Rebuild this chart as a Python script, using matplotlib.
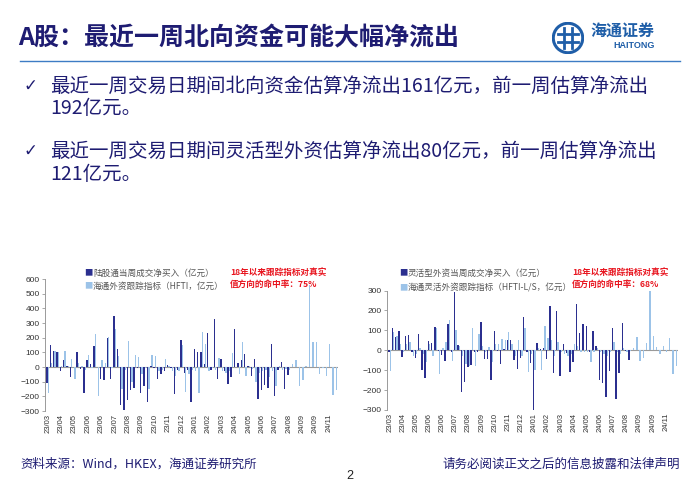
import matplotlib
matplotlib.use("Agg")
import matplotlib.pyplot as plt
import numpy as np
from matplotlib.patches import Circle

plt.rcParams['font.family'] = ['Noto Sans CJK SC', 'DejaVu Sans']

W, H = 700, 484

# ---- data (weekly, 亿元) ----
tick_labels = ['23/03', '23/04', '23/05', '23/06', '23/06', '23/07', '23/08', '23/09',
               '23/10', '23/11', '23/12', '24/01', '24/02', '24/03', '24/04', '24/05',
               '24/06', '24/07', '24/08', '24/09', '24/09', '24/11']

north_actual = [-110, 150, 110, 105, -30, 45, 5, -70, 0, 100, -15, -180, 50, 20, 145, 0,
                -85, -90, 200, -80, 345, 125, -260, -295, -225, -160, -145, -10, -175, -130,
                -240, 5, -10, -80, -45, -30, 15, -10, -185, -20, 185, -40, -20, -240, 120,
                100, 105, 20, 235, -20, 330, -80, 55, -30, -115, -70, 260, 25, 45, 90, 10,
                -60, 55, -220, -160, -120, -145, 160, -195, -20, 35, -150, -55]
north_hfti = [-180, 30, 110, 100, 10, 110, 10, 55, -85, 30, 10, -20, 80, -10, 225, -200,
              50, 30, 205, -10, 260, 75, -150, -20, 175, -100, 80, 65, -50, -10, -150, 80,
              75, -30, -20, 55, 10, -30, -60, -30, 150, -170, -50, -20, -30, -180, 240, 160,
              -30, -10, -20, 60, -30, -40, -30, 95, 0, -45, 170, -60, 10, -15, -100, -40,
              -30, -20, -70, -30, -130, 10, -20, -15, -20, 20, 50, -130, -90, 10, 560, 170,
              170, -45, -10, -60, 160, -190, -160]

flex_actual = [-10, 110, 65, 95, -35, 70, 75, -10, -40, 80, -100, -140, 45, 35, 115, -5,
               -25, -55, 130, -10, 290, 25, -210, -160, -85, -75, -10, -10, 140, -45, -45,
               -150, 95, -5, -70, 5, 50, 50, -50, -95, -40, 165, -10, -65, -300, 35, 5, 10,
               -45, 220, -115, 195, -130, 30, -15, -110, -60, 230, 85, 130, 120, -10, 95, 20,
               -150, -165, -235, -105, 110, -245, -115, 135, -5, -50]
flex_hfti = [-105, 90, 70, 30, -10, 30, 40, -30, -20, 10, -20, -60, 30, -30, 110, -120, 10,
             40, 150, -55, 100, 20, -30, -70, -80, 110, -80, 80, 20, -10, 15, -60, 30, 30,
             55, 50, 90, 30, -30, 50, -30, 110, -110, -20, -100, 10, -100, 120, 60, 50, -30,
             40, -10, -20, -30, -20, 30, 20, -10, -10, -10, -60, -10, 10, -10, -20, -30, -10,
             40, -10, -20, 10, -10, -5, 10, 65, -55, -40, 35, 300, 70, 15, -20, 20, -10, 60,
             -120, -80]

DARK = '#2B2F8F'
LIGHT = '#9CC3E8'
NAVY = '#1E1C72'
LOGO = '#1F5EA8'


def rect(left, top, right, bottom):
    return [left / W, 1 - bottom / H, (right - left) / W, (bottom - top) / H]


def ftext(x, y, s, **kw):
    fig.text(x / W, 1 - y / H, s, **kw)


def draw_chart(ax, actual, hfti, ylim, step):
    xa = np.arange(len(actual))
    xh = np.arange(len(hfti))
    ax.bar(xa - 0.2, actual, width=0.42, color=DARK, zorder=3)
    ax.bar(xh + 0.2, hfti, width=0.42, color=LIGHT, zorder=2)
    ax.axhline(0, color='#9a9a9a', lw=0.8, zorder=1)
    ax.set_ylim(*ylim)
    ax.set_xlim(-0.8, len(hfti) - 0.3)
    ax.set_yticks(np.arange(ylim[0], ylim[1] + 1, step))
    ax.set_xticks(np.arange(0, 4 * len(tick_labels), 4))
    ax.set_xticklabels(tick_labels, rotation=90, fontsize=5.5,
                       family=['Liberation Sans'], color='#333333')
    for lab in ax.get_yticklabels():
        lab.set_family(['Liberation Sans'])
    ax.tick_params(axis='y', labelsize=6, color='#9a9a9a', length=2, width=0.6,
                   labelcolor='#333333', pad=2)
    ax.tick_params(axis='x', length=0, pad=2)
    for s in ['top', 'right', 'bottom']:
        ax.spines[s].set_visible(False)
    ax.spines['left'].set_color('#9a9a9a')
    ax.spines['left'].set_linewidth(0.7)
    ax.patch.set_alpha(0)


fig = plt.figure(figsize=(7, 4.84), dpi=100)

# ---- header ----
ftext(18, 38, 'A股：最近一周北向资金可能大幅净流出', fontsize=18, fontweight='bold',
      color=NAVY, va='center', ha='left')
fig.add_artist(plt.Line2D([20 / W, 680 / W], [1 - 61 / H, 1 - 61 / H],
                          color='#3D7CC4', lw=1.0))

# logo
lax = fig.add_axes(rect(552, 22, 584, 54))
lax.set_xlim(-1, 1)
lax.set_ylim(-1, 1)
lax.set_aspect('equal')
lax.axis('off')
lax.add_patch(Circle((0, 0), 0.92, fill=False, ec=LOGO, lw=2.2))
lax.plot([-0.6, 0.6], [0.25, 0.25], color=LOGO, lw=2.0)
lax.plot([-0.6, 0.6], [-0.25, -0.25], color=LOGO, lw=2.0)
lax.plot([-0.25, -0.25], [-0.6, 0.6], color=LOGO, lw=2.0)
lax.plot([0.25, 0.25], [-0.6, 0.6], color=LOGO, lw=2.0)
ftext(590, 31, '海通证券', fontsize=11.5, fontweight='bold', color=LOGO,
      va='center', ha='left', style='italic')
ftext(634, 46, 'HAITONG', fontsize=6.5, fontweight='bold', color=LOGO,
      va='center', ha='center', family=['Liberation Sans'])

# ---- bullets ----
bul_kw = dict(fontsize=14, color=NAVY, va='center', ha='left')
ftext(24, 86, '✓', fontsize=12, color=NAVY, va='center', ha='left',
      family=['DejaVu Sans'])
ftext(50, 86, '最近一周交易日期间北向资金估算净流出161亿元，前一周估算净流出', **bul_kw)
ftext(50, 109, '192亿元。', **bul_kw)
ftext(24, 151, '✓', fontsize=12, color=NAVY, va='center', ha='left',
      family=['DejaVu Sans'])
ftext(50, 151, '最近一周交易日期间灵活型外资估算净流出80亿元，前一周估算净流出', **bul_kw)
ftext(50, 174, '121亿元。', **bul_kw)

# ---- left chart ----
ax1 = fig.add_axes(rect(45, 279, 338, 411))
draw_chart(ax1, north_actual, north_hfti, (-300, 600), 100)
leg_kw = dict(fontsize=6.2, color='#555555', va='center', ha='left')
ftext(84, 273, '■', fontsize=6, color=DARK, va='center', ha='left')
ftext(93, 273, '陆股通当周成交净买入（亿元）', **leg_kw)
ftext(84, 286, '■', fontsize=6, color=LIGHT, va='center', ha='left')
ftext(93, 286, '海通外资跟踪指标（HFTI，亿元）', **leg_kw)
red_kw = dict(fontsize=6.2, color='#E8141E', fontweight='bold', va='center', ha='left')
ftext(230, 272, '18年以来跟踪指标对真实', **red_kw)
ftext(230, 284, '值方向的命中率：75%', **red_kw)

# ---- right chart ----
ax2 = fig.add_axes(rect(387, 290.5, 678, 410))
draw_chart(ax2, flex_actual, flex_hfti, (-300, 300), 100)
ftext(399, 273, '■', fontsize=6, color=DARK, va='center', ha='left')
ftext(408, 273, '灵活型外资当周成交净买入（亿元）', **leg_kw)
ftext(399, 288, '■', fontsize=6, color=LIGHT, va='center', ha='left')
ftext(408, 288, '海通灵活外资跟踪指标（HFTI-L/S，亿元）', **leg_kw)
ftext(572, 272, '18年以来跟踪指标对真实', **red_kw)
ftext(572, 284, '值方向的命中率：68%', **red_kw)

# ---- footer ----
ftext(20, 464, '资料来源：Wind，HKEX，海通证券研究所', fontsize=9, color=NAVY,
      va='center', ha='left')
ftext(350, 476, '2', fontsize=9, color='#222222', va='center', ha='center',
      family=['Liberation Sans'])
ftext(680, 464, '请务必阅读正文之后的信息披露和法律声明', fontsize=9, color=NAVY,
      va='center', ha='right')

fig.savefig('out.png', dpi=100)
